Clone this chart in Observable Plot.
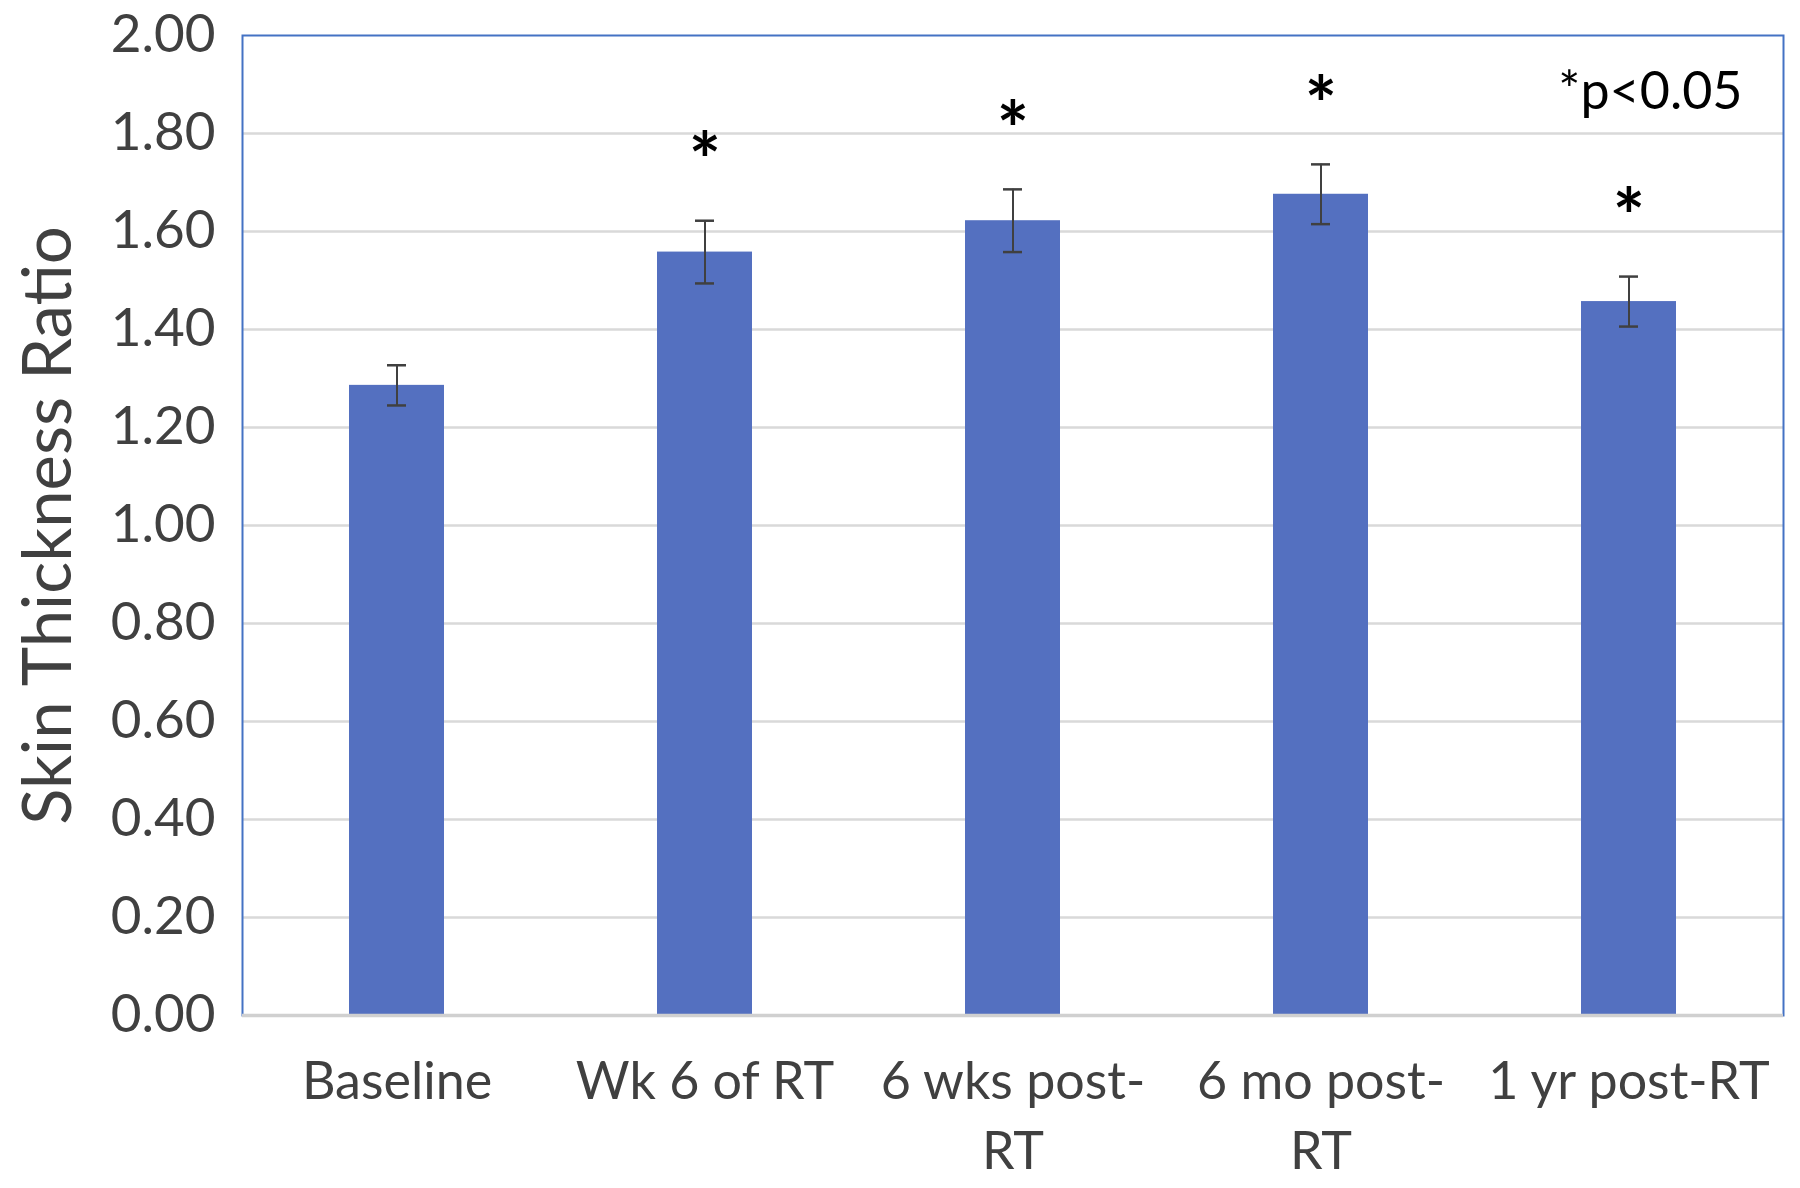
<!DOCTYPE html>
<html>
<head>
<meta charset="utf-8">
<script src="https://cdn.jsdelivr.net/npm/d3@7"></script>
<script src="https://cdn.jsdelivr.net/npm/@observablehq/plot@0.6"></script>
<style>
  html, body { margin: 0; padding: 0; background: #fff; }
  #chart svg { display: block; }
</style>
</head>
<body>
<div id="chart"></div>
<script>
const categories = ["Baseline", "Wk 6 of RT", "6 wks post-RT", "6 mo post-RT", "1 yr post-RT"];
const tickLabels = ["Baseline", "Wk 6 of RT", "6 wks post-\nRT", "6 mo post-\nRT", "1 yr post-RT"];
const means = [1.286, 1.558, 1.622, 1.676, 1.457];
const errors = [0.041, 0.064, 0.064, 0.061, 0.051];
const significant = [false, true, true, true, true];
const yTicks = [0, 0.2, 0.4, 0.6, 0.8, 1.0, 1.2, 1.4, 1.6, 1.8, 2.0];
const gridTicks = [0.2, 0.4, 0.6, 0.8, 1.0, 1.2, 1.4, 1.6, 1.8];
const yLabel = "Skin Thickness Ratio";
const noteText = "*p<0.05";

const rows = categories.map((c, i) => ({
  cat: c, mean: means[i], lo: means[i] - errors[i], hi: means[i] + errors[i], sig: significant[i]
}));
const labelOf = new Map(categories.map((c, i) => [c, tickLabels[i]]));

const FONT = "Lato, 'Open Sans', sans-serif";

const chart = Plot.plot({
  width: 1800,
  height: 1188,
  marginLeft: 242,
  marginRight: 17,
  marginTop: 35,
  marginBottom: 173,
  style: { fontFamily: FONT, background: "#fff" },
  x: { domain: categories, paddingInner: 0.69, paddingOuter: 0.345 },
  y: { domain: [0, 2] },
  marks: [
    Plot.ruleY(gridTicks, { stroke: "#d9d9d9", strokeWidth: 2.5 }),
    Plot.barY(rows, { x: "cat", y: "mean", fill: "#5470c0" }),
    Plot.ruleX(rows, { x: "cat", y1: "lo", y2: "hi", stroke: "#404040", strokeWidth: 2 }),
    Plot.tickY(rows, { x: "cat", y: "hi", stroke: "#404040", strokeWidth: 2.5, inset: 38 }),
    Plot.tickY(rows, { x: "cat", y: "lo", stroke: "#404040", strokeWidth: 2.5, inset: 38 }),
    Plot.text(rows.filter(d => d.sig), {
      x: "cat", y: "hi", text: () => "*", dy: -57, lineAnchor: "middle",
      fontSize: 76, fontWeight: "bold", fill: "#000"
    }),
    Plot.frame({ stroke: "#4472c4", strokeWidth: 2 }),
    Plot.ruleY([0], { stroke: "#d0d0d0", strokeWidth: 3.5 }),
    Plot.text([noteText], {
      frameAnchor: "top-right", textAnchor: "end", lineAnchor: "middle",
      dx: -41, dy: 57, fontSize: 52, fill: "#000"
    }),
    Plot.axisY({
      ticks: yTicks, tickFormat: d3.format(".2f"), tickSize: 0, tickPadding: 27,
      fontSize: 53, fill: "#404040", label: null
    }),
    Plot.axisX({
      tickFormat: d => labelOf.get(d), tickSize: 0, tickPadding: 33,
      fontSize: 52, lineHeight: 1.36, fill: "#404040", label: null
    }),
    Plot.text([yLabel], {
      frameAnchor: "left", rotate: -90, dx: -193, textAnchor: "middle", lineAnchor: "middle",
      fontSize: 67, fill: "#404040"
    })
  ]
});
document.getElementById("chart").appendChild(chart);
</script>
</body>
</html>
